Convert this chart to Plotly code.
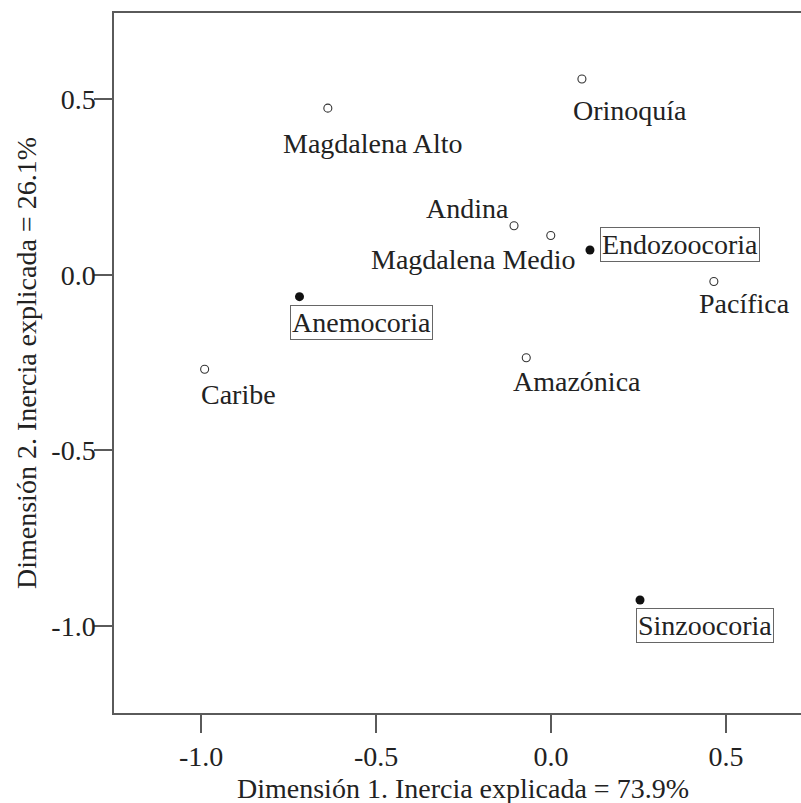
import plotly.graph_objects as go

# Row points (regions) - open circles
regions = ["Orinoquía", "Magdalena Alto", "Andina", "Magdalena Medio", "Pacífica",
           "Caribe", "Amazónica"]
region_x = [0.088, -0.638, -0.106, -0.001, 0.465, -0.990, -0.071]
region_y = [0.558, 0.475, 0.140, 0.112, -0.019, -0.269, -0.236]

# Column points (dispersal syndromes) - filled circles
modes = ["Endozoocoria", "Anemocoria", "Sinzoocoria"]
mode_x = [0.111, -0.719, 0.254]
mode_y = [0.071, -0.062, -0.926]

tick_vals_x = [-1.0, -0.5, 0.0, 0.5]
tick_text_x = ["-1.0", "-0.5", "0.0", "0.5"]
tick_vals_y = [-1.0, -0.5, 0.0, 0.5]
tick_text_y = ["-1.0", "-0.5", "0.0", "0.5"]

x_title = "Dimensión 1. Inercia explicada = 73.9%"
y_title = "Dimensión 2. Inercia explicada = 26.1%"

# label placement styles (pixel offsets from the point)
region_label_style = {
    "Orinoquía": ("left", -11, -31),
    "Magdalena Alto": ("left", -47, -35),
    "Andina": ("right", -3, 17),
    "Magdalena Medio": ("right", 27, -24),
    "Pacífica": ("left", -17, -22),
    "Caribe": ("left", -6, -25),
    "Amazónica": ("left", -15, -24),
}
mode_label_style = {
    "Endozoocoria": ("left", 10, 5),
    "Anemocoria": ("left", -9, -26),
    "Sinzoocoria": ("left", -4, -26),
}

FONT = "Liberation Serif"
FS = 28
AX = "#5a5a5a"
TXT = "#222222"

fig = go.Figure()
fig.add_trace(go.Scatter(
    x=region_x, y=region_y, mode="markers",
    marker=dict(symbol="circle-open", size=8, color="#333333", line=dict(width=1.1)),
    hoverinfo="text", text=regions, showlegend=False))
fig.add_trace(go.Scatter(
    x=mode_x, y=mode_y, mode="markers",
    marker=dict(symbol="circle", size=9, color="#111111"),
    hoverinfo="text", text=modes, showlegend=False))

ann = []
for name, x, y in zip(regions, region_x, region_y):
    anchor, dx, dy = region_label_style[name]
    ann.append(dict(x=x, y=y, xref="x", yref="y", text=name, showarrow=False,
                    xanchor=anchor, yanchor="middle", xshift=dx, yshift=dy,
                    font=dict(family=FONT, size=FS, color=TXT)))
for name, x, y in zip(modes, mode_x, mode_y):
    anchor, dx, dy = mode_label_style[name]
    ann.append(dict(x=x, y=y, xref="x", yref="y", text=name, showarrow=False,
                    xanchor=anchor, yanchor="middle", xshift=dx, yshift=dy,
                    bordercolor="#666666", borderwidth=1, borderpad=1,
                    font=dict(family=FONT, size=FS, color=TXT)))

ann.append(dict(x=0.508, y=0, xref="paper", yref="paper", text=x_title, showarrow=False,
                xanchor="center", yanchor="middle", yshift=-75,
                font=dict(family=FONT, size=FS, color=TXT)))
ann.append(dict(x=0, y=0.5, xref="paper", yref="paper", text=y_title, showarrow=False,
                xanchor="center", yanchor="middle", xshift=-88, textangle=-90,
                font=dict(family=FONT, size=FS, color=TXT)))

fig.update_layout(
    width=801, height=803,
    margin=dict(l=114, r=0, t=13, b=90),
    paper_bgcolor="white", plot_bgcolor="white",
    font=dict(family=FONT, size=FS, color=TXT),
    annotations=ann,
    xaxis=dict(range=[-1.249, 0.714], tickvals=tick_vals_x, ticktext=tick_text_x,
               showgrid=False, zeroline=False, showline=True, linecolor=AX, linewidth=1.5,
               mirror=True, ticks="outside", ticklen=18, tickwidth=1.5, tickcolor=AX,
               tickfont=dict(family=FONT, size=FS, color=TXT)),
    yaxis=dict(range=[-1.248, 0.746], tickvals=tick_vals_y, ticktext=tick_text_y,
               showgrid=False, zeroline=False, showline=True, linecolor=AX, linewidth=1.5,
               ticks="outside", ticklen=18, tickwidth=1.5, tickcolor=AX,
               ticklabelstandoff=-7,
               tickfont=dict(family=FONT, size=FS, color=TXT)),
)

fig.write_html("out.html")
